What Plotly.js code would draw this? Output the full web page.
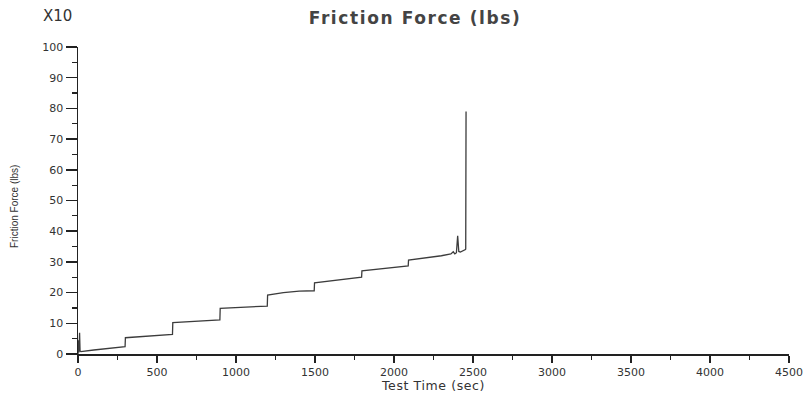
<!DOCTYPE html>
<html>
<head>
<meta charset="utf-8">
<script src="https://cdn.plot.ly/plotly-3.0.1.min.js"></script>
<style>
html,body{margin:0;padding:0;background:#fff;}
#chart{width:806px;height:393px;}
#chart .gtitle{letter-spacing:1.6px;}
#chart .xtitle{letter-spacing:0.6px;}
</style>
</head>
<body>
<div id="chart"></div>
<script>
// Test time (sec) and friction force (lbs, x10)
const timeSec = [0, 4, 6, 10, 13, 18, 100, 200, 298, 300, 400, 500, 598, 600, 750, 898, 900, 1050, 1198, 1200, 1300, 1400, 1495, 1497, 1650, 1795, 1797, 1950, 2090, 2092, 2200, 2300, 2360, 2375, 2385, 2395, 2403, 2410, 2420, 2440, 2452, 2454, 2456];
const frictionForce = [0, 4.5, 0.5, 6.9, 1.0, 0.8, 1.3, 1.9, 2.4, 5.3, 5.7, 6.0, 6.4, 10.2, 10.7, 11.1, 14.9, 15.3, 15.6, 19.2, 20.0, 20.5, 20.6, 23.2, 24.0, 25.0, 27.1, 27.9, 28.7, 30.6, 31.3, 32.0, 32.6, 33.3, 32.6, 33.0, 38.5, 33.4, 33.2, 33.6, 34.0, 34.2, 79.0];
const xTickVals = [0, 500, 1000, 1500, 2000, 2500, 3000, 3500, 4000, 4500];
const yTickVals = [0, 10, 20, 30, 40, 50, 60, 70, 80, 90, 100];

const tickFont = {family: 'DejaVu Sans', size: 11, color: '#333333'};

const trace = {
  x: timeSec, y: frictionForce, type: 'scatter', mode: 'lines',
  line: {color: '#3c3c3c', width: 1.3}, hoverinfo: 'x+y'
};

const layout = {
  width: 806, height: 393,
  margin: {l: 78, r: 17, t: 47, b: 39},
  paper_bgcolor: '#ffffff', plot_bgcolor: '#ffffff',
  showlegend: false,
  title: {text: 'Friction Force (lbs)', font: {family: 'DejaVu Sans', size: 17, color: '#444444', weight: 'bold'},
          x: 0.515, xref: 'container', xanchor: 'center', y: 0.953, yref: 'container', yanchor: 'middle'},
  xaxis: {
    range: [0, 4500], tickvals: xTickVals, ticktext: xTickVals.map(String),
    showgrid: false, zeroline: false, showline: true, linecolor: '#222', linewidth: 1.5,
    ticks: 'outside', ticklen: 7, tickwidth: 1.5, tickcolor: '#222',
    minor: {dtick: 250, tick0: 0, ticks: 'outside', ticklen: 4, tickwidth: 1.2, tickcolor: '#222'},
    tickfont: tickFont, automargin: false,
    title: {text: 'Test Time (sec)', font: {family: 'DejaVu Sans', size: 12.5, color: '#333333'}, standoff: 2}
  },
  yaxis: {
    range: [0, 100], tickvals: yTickVals, ticktext: yTickVals.map(String),
    showgrid: false, zeroline: false, showline: true, linecolor: '#222', linewidth: 1.5,
    ticks: 'outside', ticklen: 11, tickwidth: 1.5, tickcolor: '#222',
    minor: {dtick: 5, tick0: 0, ticks: 'outside', ticklen: 5, tickwidth: 1.2, tickcolor: '#222'},
    tickfont: tickFont, automargin: false
  },
  annotations: [
    {text: 'X10', xref: 'paper', yref: 'paper', x: -0.0295, y: 1.1, xanchor: 'center', yanchor: 'middle',
     showarrow: false, font: {family: 'DejaVu Sans', size: 15, color: '#333'}},
    {text: 'Friction Force (lbs)', xref: 'paper', yref: 'paper', x: -0.0895, y: 0.48, xanchor: 'center', yanchor: 'middle',
     textangle: -90, showarrow: false, font: {family: 'Liberation Sans Narrow, Liberation Sans', size: 10, color: '#333'}}
  ]
};

Plotly.newPlot('chart', [trace], layout, {displayModeBar: false, staticPlot: true});
</script>
</body>
</html>
